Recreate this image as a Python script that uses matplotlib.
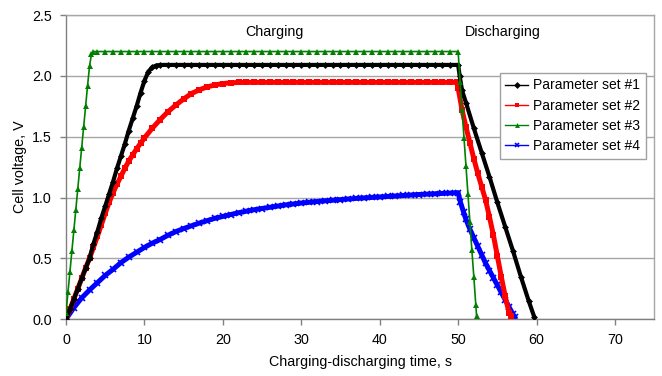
import matplotlib
matplotlib.use("Agg")
import matplotlib.pyplot as plt

plt.rcParams['font.family'] = ['Liberation Sans', 'DejaVu Sans']

# ---------------- data ----------------
# Parameter set #1 (black)
t_set1 = [0, 0.5, 1, 1.5, 2, 2.5, 3, 3.5, 4, 4.5, 5, 5.5, 6, 6.5, 7, 7.5, 8, 8.5, 9, 9.5,
          10, 10.5, 11, 11.5, 12,
          13, 14, 15, 16, 17, 18, 19, 20, 21, 22, 23, 24, 25, 26, 27, 28, 29, 30, 31, 32,
          33, 34, 35, 36, 37, 38, 39, 40, 41, 42, 43, 44, 45, 46, 47, 48, 49, 50,
          50.2, 50.5, 51, 52, 53, 54, 55, 56, 57, 58, 59, 59.7]
v_set1 = [0.0, 0.08, 0.165, 0.25, 0.335, 0.42, 0.50, 0.62, 0.72, 0.83, 0.93, 1.03, 1.13, 1.24,
          1.34, 1.44, 1.55, 1.65, 1.75, 1.86, 1.96, 2.035, 2.07, 2.085, 2.09,
          2.09, 2.09, 2.09, 2.09, 2.09, 2.09, 2.09, 2.09, 2.09, 2.09, 2.09, 2.09, 2.09, 2.09,
          2.09, 2.09, 2.09, 2.09, 2.09, 2.09, 2.09, 2.09, 2.09, 2.09, 2.09, 2.09, 2.09, 2.09,
          2.09, 2.09, 2.09, 2.09, 2.09, 2.09, 2.09, 2.09, 2.09, 2.09,
          2.00, 1.88, 1.78, 1.57, 1.37, 1.17, 0.96, 0.76, 0.56, 0.35, 0.15, 0.02]

# Parameter set #2 (red)
t_set2 = [0, 0.5, 1, 1.5, 2, 2.5, 3, 3.5, 4, 4.5, 5, 5.5, 6, 6.5, 7, 7.5, 8, 8.5, 9, 9.5, 10,
          11, 12, 13, 14, 15, 16, 17, 18, 19, 20, 21, 22, 23, 24, 25, 26, 27, 28, 29, 30,
          31, 32, 33, 34, 35, 36, 37, 38, 39, 40, 41, 42, 43, 44, 45, 46, 47, 48, 49, 49.9,
          50.0, 50.5, 51, 51.5, 52, 52.5, 53, 53.5, 54, 54.5, 55, 55.5, 56, 56.5, 56.7]
v_set2 = [0.0, 0.08, 0.165, 0.25, 0.335, 0.42, 0.50, 0.59, 0.68, 0.775, 0.87, 0.96, 1.04,
          1.11, 1.175, 1.24, 1.30, 1.35, 1.40, 1.445, 1.49,
          1.57, 1.64, 1.705, 1.76, 1.81, 1.855, 1.885, 1.91, 1.925, 1.937, 1.943, 1.946,
          1.947, 1.947, 1.947, 1.947, 1.947, 1.947, 1.947, 1.947, 1.947, 1.947, 1.947, 1.947,
          1.947, 1.947, 1.947, 1.947, 1.947, 1.947, 1.947, 1.947, 1.947, 1.947, 1.947, 1.947,
          1.947, 1.947, 1.947, 1.947,
          1.90, 1.72, 1.58, 1.45, 1.32, 1.20, 1.09, 0.98, 0.84, 0.69, 0.52, 0.35, 0.19, 0.05, 0.03]

# Parameter set #3 (green)
t_set3 = [0, 0.25, 0.5, 0.75, 1.0, 1.25, 1.5, 1.75, 2.0, 2.25, 2.5, 2.75, 3.0, 3.25, 3.5,
          4, 5, 6, 7, 8, 9, 10, 11, 12, 13, 14, 15, 16, 17, 18, 19, 20, 21, 22, 23, 24, 25,
          26, 27, 28, 29, 30, 31, 32, 33, 34, 35, 36, 37, 38, 39, 40, 41, 42, 43, 44, 45,
          46, 47, 48, 49, 50,
          50.25, 50.5, 50.75, 51.0, 51.25, 51.5, 51.75, 52.0, 52.25, 52.35]
v_set3 = [0.05, 0.22, 0.39, 0.56, 0.73, 0.90, 1.07, 1.24, 1.41, 1.58, 1.75, 1.92, 2.08, 2.18,
          2.20,
          2.20, 2.20, 2.20, 2.20, 2.20, 2.20, 2.20, 2.20, 2.20, 2.20, 2.20, 2.20, 2.20, 2.20,
          2.20, 2.20, 2.20, 2.20, 2.20, 2.20, 2.20, 2.20, 2.20, 2.20, 2.20, 2.20, 2.20, 2.20,
          2.20, 2.20, 2.20, 2.20, 2.20, 2.20, 2.20, 2.20, 2.20, 2.20, 2.20, 2.20, 2.20, 2.20,
          2.20, 2.20, 2.20, 2.20, 2.20,
          1.95, 1.72, 1.49, 1.26, 1.03, 0.80, 0.57, 0.35, 0.12, 0.03]

# Parameter set #4 (blue)
t_set4 = [0, 1, 2, 3, 4, 5, 6, 7, 8, 9, 10, 11, 12, 13, 14, 15, 16, 17, 18, 19, 20, 21, 22,
          23, 24, 25, 26, 27, 28, 29, 30, 31, 32, 33, 34, 35, 36, 37, 38, 39, 40, 41, 42, 43,
          44, 45, 46, 47, 48, 49, 50,
          50.3, 50.7, 51.0, 51.5, 52, 52.5, 53, 53.5, 54, 54.5, 55, 55.5, 56, 56.5, 57, 57.2]
v_set4 = [0.0, 0.095, 0.175, 0.24, 0.30, 0.36, 0.41, 0.465, 0.51, 0.55, 0.59, 0.625, 0.655,
          0.69, 0.72, 0.745, 0.768, 0.79, 0.81, 0.83, 0.845, 0.86, 0.875, 0.888, 0.90, 0.91,
          0.92, 0.93, 0.94, 0.947, 0.955, 0.961, 0.967, 0.973, 0.978, 0.983, 0.988, 0.993,
          0.997, 1.001, 1.005, 1.009, 1.013, 1.017, 1.021, 1.025, 1.028, 1.031, 1.034, 1.037,
          1.04,
          0.96, 0.88, 0.82, 0.74, 0.67, 0.60, 0.53, 0.46, 0.40, 0.34, 0.28, 0.22, 0.16, 0.10,
          0.04, 0.02]

series_labels = ["Parameter set #1", "Parameter set #2", "Parameter set #3", "Parameter set #4"]
x_ticks = [0, 10, 20, 30, 40, 50, 60, 70]
y_ticks = [0.0, 0.5, 1.0, 1.5, 2.0, 2.5]
annotations = [("Charging", 26.6, 2.36), ("Discharging", 55.7, 2.36)]

# ---------------- figure ----------------
fig = plt.figure(figsize=(6.62, 3.76), dpi=100)
ax = fig.add_axes([0.0997, 0.151, 0.8885, 0.809])

grid_c = '#a6a6a6'
ax.set_xlim(0, 75)
ax.set_ylim(0, 2.5)
ax.set_yticks(y_ticks)
ax.set_yticklabels([f"{v:.1f}" for v in y_ticks])
ax.set_xticks(x_ticks)
ax.yaxis.grid(True, color=grid_c, linewidth=1.0)
ax.set_axisbelow(True)
for s in ax.spines.values():
    s.set_color(grid_c)
    s.set_linewidth(1.0)
ax.spines['left'].set_color('#808080')
ax.spines['bottom'].set_color('#808080')
ax.tick_params(axis='both', direction='out', length=4, width=1, color='#808080',
               labelsize=10.3, pad=6)

ax.plot(t_set1, v_set1, color='black', lw=3.0, marker='D', ms=3.5, mew=0,
        label=series_labels[0], zorder=4)
ax.plot(t_set2, v_set2, color='#ff0000', lw=3.6, marker='s', ms=4, mew=0,
        label=series_labels[1], zorder=3)
ax.plot(t_set3, v_set3, color='#008000', lw=1.2, marker='^', ms=5, mew=0,
        label=series_labels[2], zorder=5)
ax.plot(t_set4, v_set4, color='#0000ff', lw=3.6, marker='x', ms=4, mew=1.2,
        label=series_labels[3], zorder=2)

for txt, xt, yt in annotations:
    ax.text(xt, yt, txt, ha='center', va='center', fontsize=10.3)

ax.set_xlabel("Charging-discharging time, s", fontsize=10.3, labelpad=6)
ax.set_ylabel("Cell voltage, V", fontsize=10.3, labelpad=4)

leg = ax.legend(loc='upper right', bbox_to_anchor=(0.986, 0.81), fontsize=10,
                frameon=True, fancybox=False, edgecolor='#a0a0a0', framealpha=1,
                handlelength=1.6, borderpad=0.4, labelspacing=0.45, handletextpad=0.4,
                borderaxespad=0)
leg.get_frame().set_linewidth(1.0)
for line in leg.get_lines():
    line.set_linewidth(1.0)
    line.set_markersize(3.5)

fig.savefig("out.png", dpi=100)
